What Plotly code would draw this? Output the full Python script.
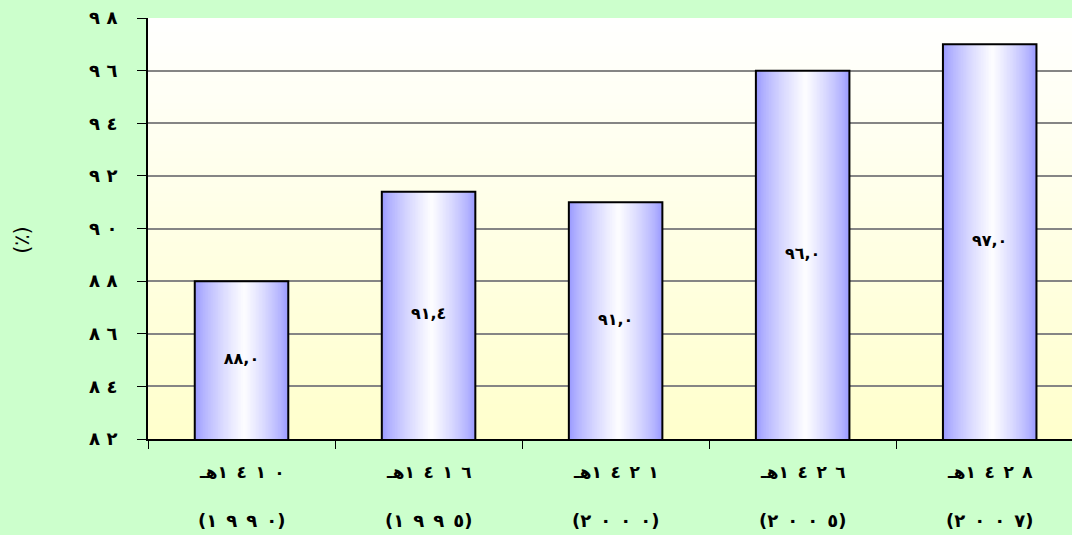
import plotly.graph_objects as go

# Data
hijri_years = ["١٤١٠", "١٤١٦", "١٤٢١", "١٤٢٦", "١٤٢٨"]
greg_years = ["١٩٩٠", "١٩٩٥", "٢٠٠٠", "٢٠٠٥", "٢٠٠٧"]
values = [88.0, 91.4, 91.0, 96.0, 97.0]
value_labels = ["٨٨,٠", "٩١,٤", "٩١,٠", "٩٦,٠", "٩٧,٠"]
y_ticks = [82, 84, 86, 88, 90, 92, 94, 96, 98]
y_tick_labels = ["٨٢", "٨٤", "٨٦", "٨٨", "٩٠", "٩٢", "٩٤", "٩٦", "٩٨"]
y_title = "(٪)"

LRM = "\u200e"
ARABIC_FONT = "DejaVu Sans"


def spaced(digits, gap=" "):
    """Spread Arabic-Indic digits apart while keeping left-to-right order."""
    return (LRM + gap + LRM).join(digits)


categories = [h + "هـ" for h in hijri_years]
hijri_text = ["هـ" + LRM + spaced(h, "\u2002") for h in hijri_years]
greg_text = ["(" + spaced(g, "\u2002") + ")" for g in greg_years]


def mix(c1, c2, t):
    return "rgb({},{},{})".format(*[round(a + (b - a) * t) for a, b in zip(c1, c2)])


BLUE = (153, 153, 255)
WHITE = (255, 255, 255)
YELLOW = (255, 255, 204)
BAR_W = 0.50
PEAK = 0.53   # position of the brightest stripe across a bar

fig = go.Figure()

# Bars with horizontal blue-white-blue shading, built from nested bars
steps = 30
for k in range(steps):
    t = k / steps
    fig.add_trace(go.Bar(
        x=categories, y=values,
        width=BAR_W * (1 - t),
        offset=-BAR_W / 2 + t * PEAK * BAR_W,
        marker=dict(color=mix(BLUE, WHITE, t ** 0.75), line=dict(width=0)),
        hoverinfo="skip", showlegend=False,
    ))

# Outline of each bar
fig.add_trace(go.Bar(
    x=categories, y=values, width=BAR_W, offset=-BAR_W / 2,
    marker=dict(color="rgba(0,0,0,0)", line=dict(color="black", width=2)),
    showlegend=False, hovertemplate="%{y}<extra></extra>",
))

# Value labels centred in the visible part of each bar
y_min = y_ticks[0]
fig.add_trace(go.Scatter(
    x=categories, y=[(v + y_min) / 2 for v in values],
    mode="text", text=value_labels,
    textfont=dict(family=ARABIC_FONT, size=16, color="black", weight="bold"),
    hoverinfo="skip", showlegend=False,
))

# Plot background: vertical white-to-yellow fade, under the gridlines
bands = 60
shapes = []
for k in range(bands):
    t = k / bands
    shapes.append(dict(
        type="rect", xref="paper", yref="paper", layer="below",
        x0=0, x1=1, y0=t, y1=min(1, t + 1 / bands + 0.002),
        fillcolor=mix(YELLOW, WHITE, t), line=dict(width=0),
    ))

annotations = []
for cat, h, g in zip(categories, hijri_text, greg_text):
    annotations.append(dict(
        x=cat, xref="x", y=0, yref="paper", yshift=-33, yanchor="middle",
        text=h, showarrow=False,
        font=dict(family=ARABIC_FONT, size=17, color="black", weight="bold"),
    ))
    annotations.append(dict(
        x=cat, xref="x", y=0, yref="paper", yshift=-81, yanchor="middle",
        text=g, showarrow=False,
        font=dict(family=ARABIC_FONT, size=18, color="black", weight="bold"),
    ))
annotations.append(dict(
    x=0, xref="paper", xshift=-126, xanchor="center",
    y=0.473, yref="paper", yanchor="middle",
    text=y_title, textangle=-90, showarrow=False,
    font=dict(family=ARABIC_FONT, size=21, color="black"),
))

fig.update_layout(
    width=1072, height=535,
    margin=dict(l=148, r=0, t=18, b=96),
    paper_bgcolor="#ccffcc",
    plot_bgcolor="#ffffcc",
    barmode="overlay",
    shapes=shapes,
    annotations=annotations,
    showlegend=False,
)
fig.update_xaxes(
    type="category", categoryorder="array", categoryarray=categories,
    tickson="boundaries", ticks="outside", ticklen=8, tickwidth=1, tickcolor="black",
    showticklabels=False, showgrid=False,
    showline=True, linecolor="black", linewidth=2,
    range=[-0.5, 4.44],
)
fig.update_yaxes(
    range=[y_ticks[0], y_ticks[-1]],
    tickmode="array", tickvals=y_ticks,
    ticktext=[spaced(s) for s in y_tick_labels],
    ticks="outside", ticklen=9, tickwidth=1, tickcolor="black",
    ticklabelstandoff=16,
    tickfont=dict(family=ARABIC_FONT, size=18, color="black", weight="bold"),
    showgrid=True, gridcolor="#858585", gridwidth=2,
    showline=True, linecolor="black", linewidth=2,
    zeroline=False,
)

fig.write_html("out.html")
